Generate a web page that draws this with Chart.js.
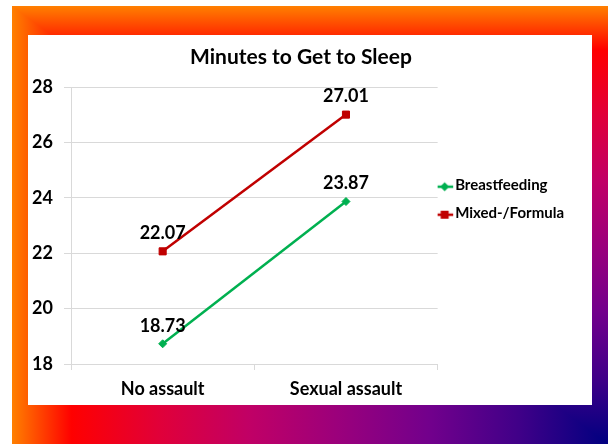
<!DOCTYPE html>
<html>
<head>
<meta charset="utf-8">
<script src="https://cdn.jsdelivr.net/npm/chart.js@4.4.1/dist/chart.umd.min.js"></script>
<style>
  html, body { margin: 0; padding: 0; background: #fff; }
  body { width: 608px; height: 444px; position: relative; overflow: hidden; }
  .frame { position: absolute; left: 12px; top: 6px; width: 596px; height: 438px; }
  .frame div { position: absolute; left: 0; top: 0; right: 0; bottom: 0; }
  .horiz { background: linear-gradient(to right, #ff8000 0%, #ff0000 10%, #e0003a 25%, #c00066 40%, #9a007c 55%, #72008c 70%, #400088 85%, #000080 100%); }
  .vert { background: linear-gradient(to bottom, #ff8000 0%, #ff0000 10%, #e0003a 25%, #c00066 40%, #9a007c 55%, #72008c 70%, #400088 85%, #000080 100%);
          clip-path: polygon(0 0, 100% 0, 100% 100%); }
  .panel { position: absolute; left: 28px; top: 35px; width: 564px; height: 370px; background: #fff; }
</style>
</head>
<body>
<div class="frame"><div class="horiz"></div><div class="vert"></div></div>
<div class="panel"><canvas id="sleepChart" width="564" height="370"></canvas></div>
<script>
const categories = ['No assault', 'Sexual assault'];
const seriesNames = ['Breastfeeding', 'Mixed-/Formula'];
const breastfeeding = [18.73, 23.87];
const mixedFormula = [22.07, 27.01];
const yTicks = [18, 20, 22, 24, 26, 28];

const green = '#00b050';
const red = '#c00000';
const font = 'Lato, "Open Sans", sans-serif';

// small line+marker picture used as the legend symbol
function legendMark(color, style) {
  const c = document.createElement('canvas');
  c.width = 40; c.height = 20;
  const g = c.getContext('2d');
  const cy = 12;
  g.strokeStyle = color;
  g.lineWidth = 2.5;
  g.beginPath(); g.moveTo(9, cy); g.lineTo(26, cy); g.stroke();
  g.fillStyle = color;
  if (style === 'rect') {
    g.fillRect(13.5, cy - 4, 8, 8);
  } else {
    g.beginPath();
    g.moveTo(17.5, cy - 4.5); g.lineTo(22, cy); g.lineTo(17.5, cy + 4.5); g.lineTo(13, cy);
    g.closePath(); g.fill();
  }
  return c;
}
const marks = [legendMark(green, 'diamond'), legendMark(red, 'rect')];

const valueLabels = {
  id: 'valueLabels',
  afterDatasetsDraw(chart) {
    const ctx = chart.ctx;
    ctx.save();
    ctx.font = 'bold 18px ' + font;
    ctx.fillStyle = '#000';
    ctx.textAlign = 'center';
    ctx.textBaseline = 'middle';
    chart.data.datasets.forEach((ds, i) => {
      chart.getDatasetMeta(i).data.forEach((pt, j) => {
        ctx.fillText(ds.data[j].toFixed(2), pt.x, pt.y - 18);
      });
    });
    ctx.restore();
  }
};

const data = {
  labels: categories,
  datasets: [{
    label: seriesNames[0],
    data: breastfeeding,
    borderColor: green,
    backgroundColor: green,
    borderWidth: 2.5,
    pointStyle: 'rectRot',
    pointRadius: 4,
    pointBorderWidth: 1,
    tension: 0
  }, {
    label: seriesNames[1],
    data: mixedFormula,
    borderColor: red,
    backgroundColor: red,
    borderWidth: 2.5,
    pointStyle: 'rect',
    pointRadius: 5,
    pointBorderWidth: 1,
    tension: 0
  }]
};

const config = {
  type: 'line',
  data: data,
  plugins: [valueLabels],
  options: {
    responsive: false,
    animation: false,
    layout: { padding: { left: 0, right: 18, top: 0, bottom: 0 } },
    plugins: {
      title: {
        display: true,
        text: 'Minutes to Get to Sleep',
        color: '#000',
        font: { family: font, size: 21, weight: 'bold' },
        padding: { top: 10, bottom: 17 }
      },
      legend: {
        position: 'right',
        align: 'start',
        // empty legend title only pushes the items down
        title: { display: true, text: ' ', font: { size: 1 }, padding: { top: 132, bottom: 0 } },
        labels: {
          usePointStyle: true,
          boxWidth: 1,
          padding: 9,
          color: '#000',
          font: { family: font, size: 15, weight: 'bold', lineHeight: 1.267 },
          generateLabels(chart) {
            const items = Chart.defaults.plugins.legend.labels.generateLabels(chart);
            items.forEach((it, i) => { it.pointStyle = marks[i]; it.text = [it.text]; });
            return items;
          }
        }
      },
      tooltip: { enabled: false }
    },
    scales: {
      x: {
        offset: true,
        afterFit: (scale) => { scale.height = 41; },
        grid: { offset: true, drawOnChartArea: false, tickLength: 6, color: '#d9d9d9' },
        border: { color: '#d9d9d9' },
        ticks: { color: '#000', padding: 8, font: { family: font, size: 18, weight: 'bold' } }
      },
      y: {
        min: yTicks[0],
        max: yTicks[yTicks.length - 1],
        afterFit: (scale) => { scale.width = 43; },
        grid: { color: '#d9d9d9', tickLength: 7 },
        border: { color: '#d9d9d9' },
        ticks: { stepSize: yTicks[1] - yTicks[0], color: '#000', padding: 11, font: { family: font, size: 18, weight: 'bold' } }
      }
    }
  }
};

const myChart = new Chart(document.getElementById('sleepChart'), config);
</script>
</body>
</html>
